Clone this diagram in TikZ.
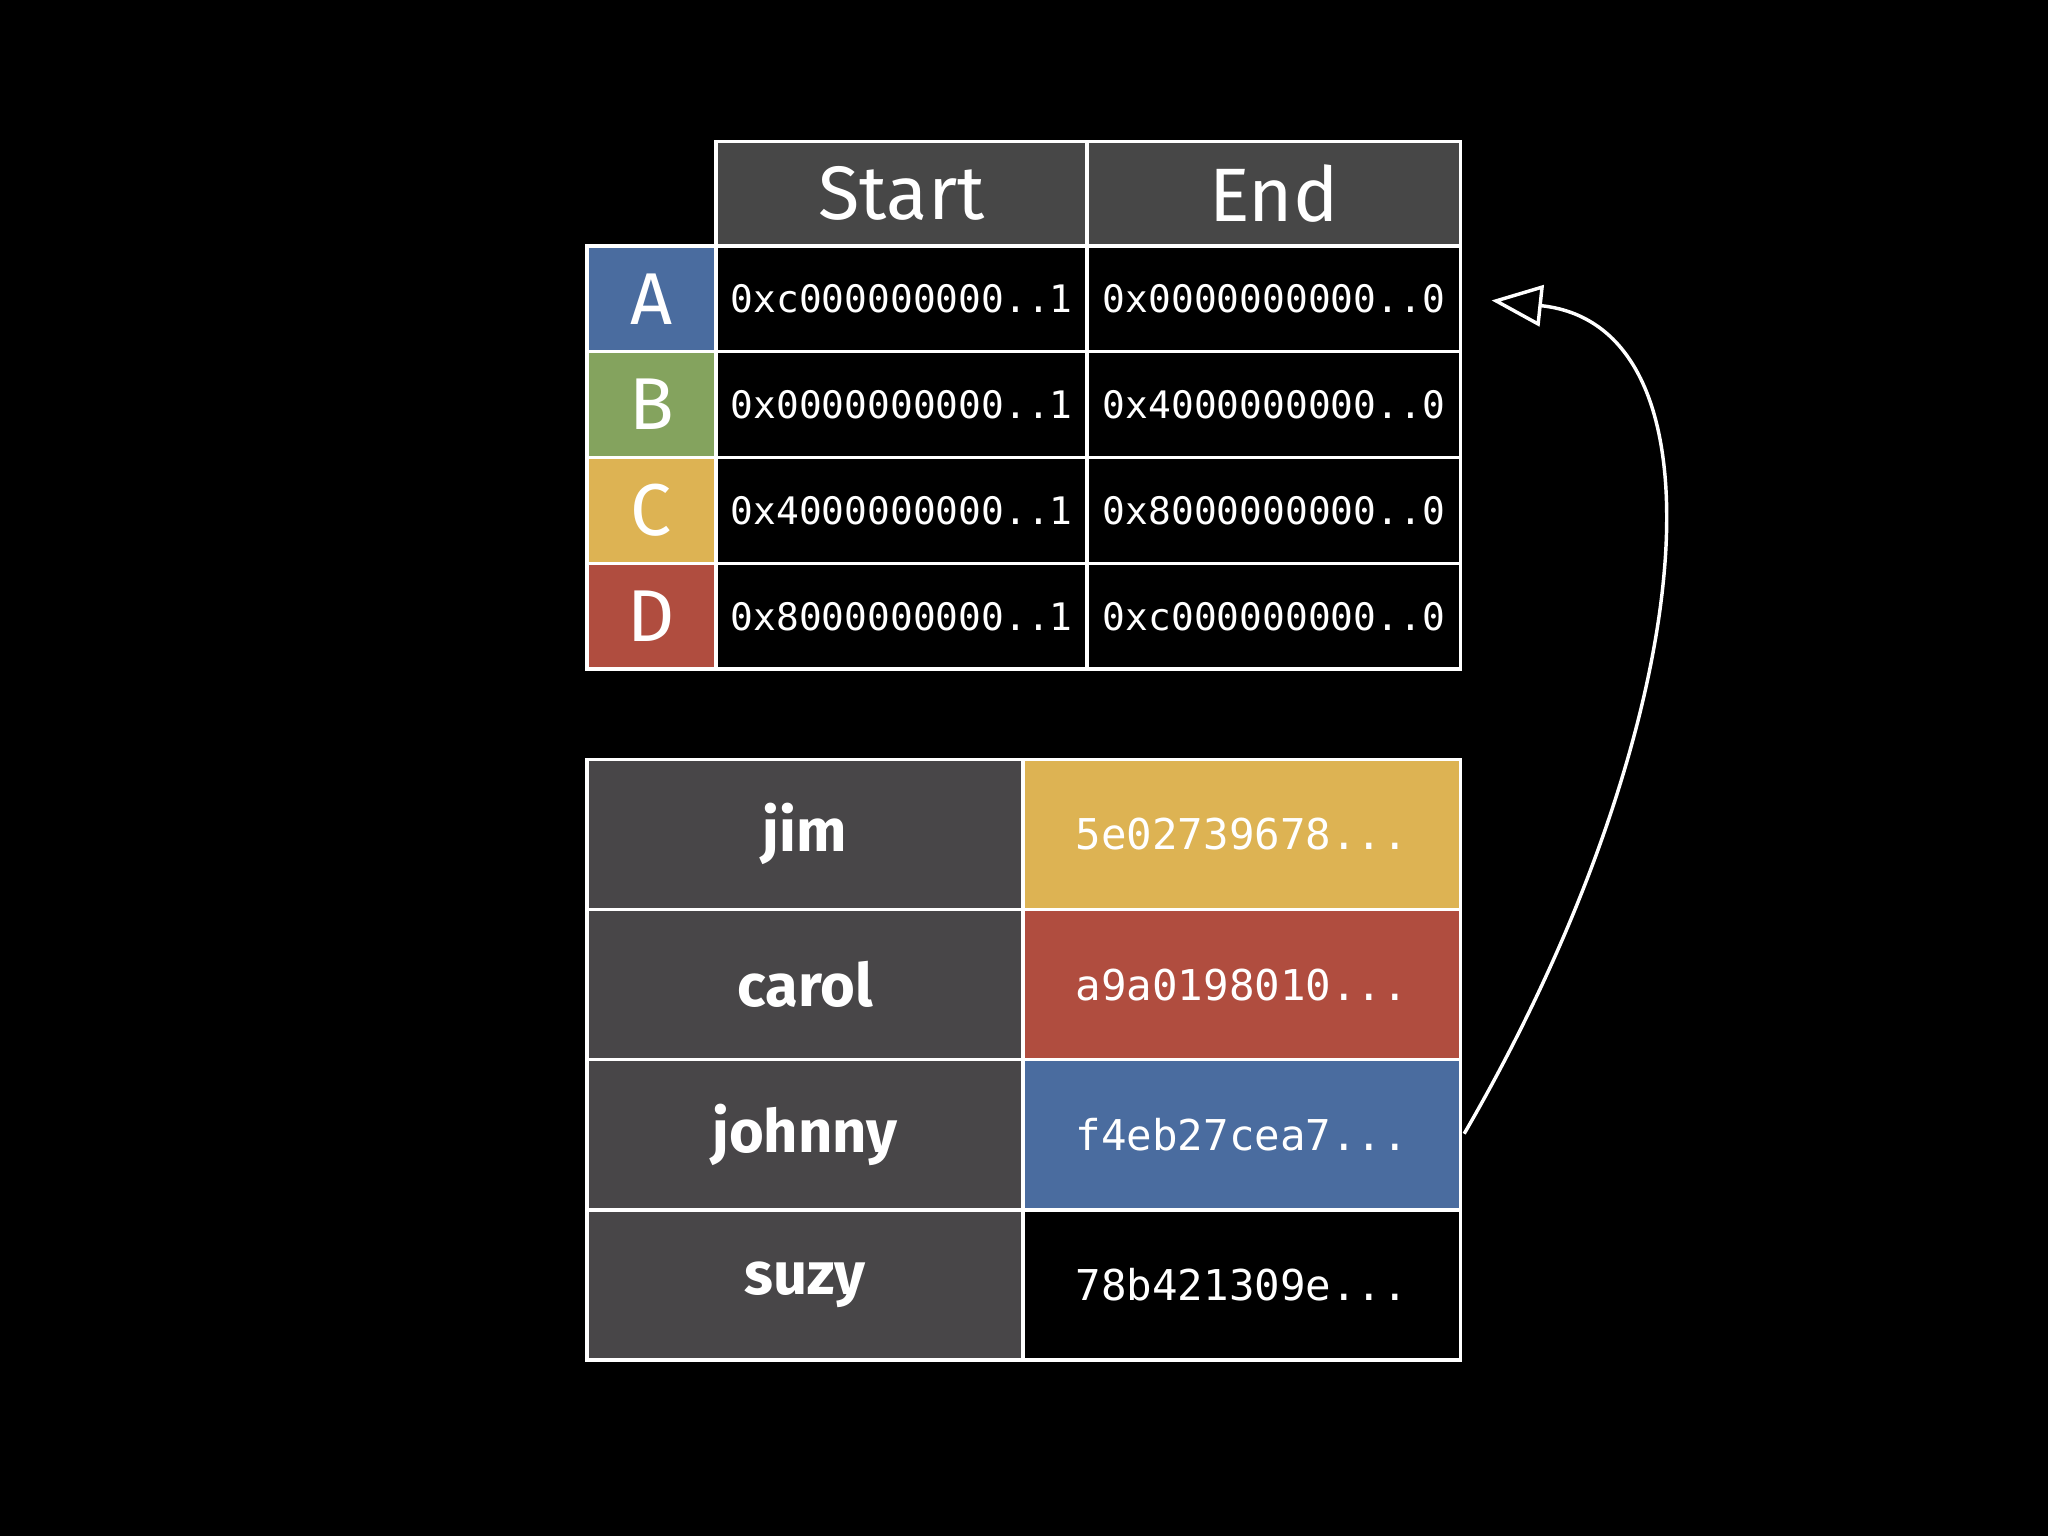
\documentclass[tikz,border=0pt]{standalone}
\usepackage{fontspec}
\setmainfont{Fira Sans}
\newfontfamily\monof{DejaVu Sans Mono}
\usetikzlibrary{arrows.meta}
\definecolor{hdr}{HTML}{474747}
\definecolor{cA}{HTML}{4A6C9F}
\definecolor{cB}{HTML}{84A35E}
\definecolor{cC}{HTML}{DDB353}
\definecolor{cD}{HTML}{B04D3F}
\definecolor{nm}{HTML}{484648}
\begin{document}
\begin{tikzpicture}[x=0.02cm,y=-0.02cm,
  cell/.style={draw=white,line width=1.5pt,anchor=north west,inner sep=0pt,text=white},
  hd/.style={cell,fill=hdr,minimum width=#1*0.02cm,minimum height=80*0.02cm,font=\fontsize{33}{36}\selectfont},
  lab/.style={cell,fill=#1,minimum width=99*0.02cm,minimum height=81*0.02cm,font=\fontsize{32}{36}\selectfont},
  hx/.style={cell,fill=black,minimum width=#1*0.02cm,minimum height=81*0.02cm,font=\monof\fontsize{16.5}{18}\selectfont},
  nmc/.style={cell,fill=nm,minimum width=334*0.02cm,minimum height=115*0.02cm,font=\bfseries\fontsize{26}{30}\selectfont},
  hv/.style={cell,fill=#1,minimum width=335*0.02cm,minimum height=115*0.02cm,font=\monof\fontsize{18.5}{20}\selectfont}]
\fill[black] (0,0) rectangle (1568,1176);
\useasboundingbox (0,0) rectangle (1568,1176);
\node[hd=284] (hs) at (547,107) {Start};
\node[hd=286] (he) at (831,107) {End};
\node[lab=cA] (la) at (448,187) {A};
\node[hx=284] (sa) at (547,187) {0xc000000000..1};
\node[hx=286] (ea) at (831,187) {0x0000000000..0};
\node[lab=cB] (lb) at (448,268) {B};
\node[hx=284] (sb) at (547,268) {0x0000000000..1};
\node[hx=286] (eb) at (831,268) {0x4000000000..0};
\node[lab=cC] (lc) at (448,349) {C};
\node[hx=284] (sc) at (547,349) {0x4000000000..1};
\node[hx=286] (ec) at (831,349) {0x8000000000..0};
\node[lab=cD] (ld) at (448,430) {D};
\node[hx=284] (sd) at (547,430) {0x8000000000..1};
\node[hx=286] (ed) at (831,430) {0xc000000000..0};
\node[nmc] (n1) at (448,580) {jim};
\node[hv=cC] (v1) at (782,580) {5e02739678...};
\node[nmc] (n2) at (448,695) {carol};
\node[hv=cD] (v2) at (782,695) {a9a0198010...};
\node[nmc] (n3) at (448,810) {johnny};
\node[hv=cA] (v3) at (782,810) {f4eb27cea7...};
\node[nmc] (n4) at (448,925) {suzy};
\node[hv=black] (v4) at (782,925) {78b421309e...};
\coordinate (p0) at (1121,868);
\coordinate (p1) at (1142,230);
\draw[white,line width=1.5pt,-{Triangle[open,length=22pt,width=18pt]}]
  (p0) .. controls (1300,560) and (1330,250) .. (p1);
\end{tikzpicture}
\end{document}
